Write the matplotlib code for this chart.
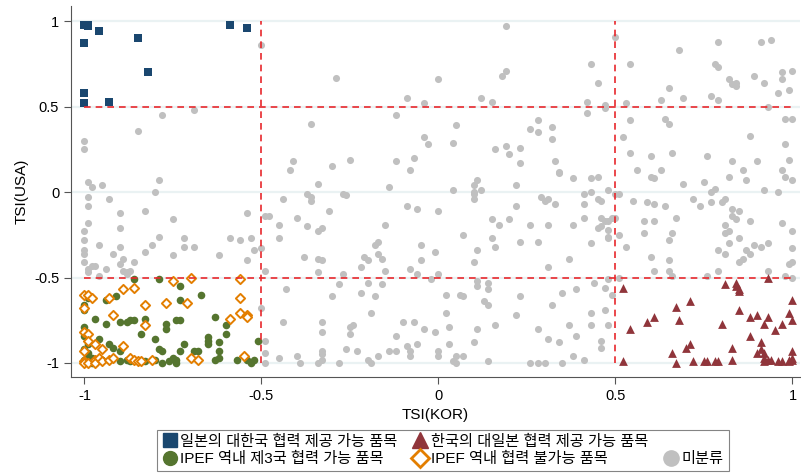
import matplotlib
matplotlib.use('Agg')
import matplotlib.pyplot as plt
from matplotlib.lines import Line2D
import numpy as np

plt.rcParams['font.family'] = ['Liberation Sans', 'Noto Sans CJK KR', 'DejaVu Sans']

# points, (TSI(KOR), TSI(USA))
gray_pts = [
    (-0.50, 0.86), (0.19, 0.97), (0.50, 0.91), (-0.29, 0.67), (0.00, 0.66), (0.18, 0.68), (0.19, 0.71),
    (0.43, 0.75), (0.45, 0.64), (-0.09, 0.55), (-0.04, 0.52), (0.12, 0.55), (0.15, 0.53), (0.42, 0.53),
    (0.47, 0.51), (0.47, 0.49), (-0.12, 0.45), (-0.36, 0.40), (0.05, 0.39), (0.26, 0.37), (0.28, 0.42),
    (0.28, 0.35), (0.32, 0.38), (0.32, 0.31), (0.42, 0.46), (-0.04, 0.32), (-0.03, 0.28), (0.04, 0.29),
    (0.16, 0.25), (0.19, 0.27), (0.20, 0.22), (0.23, 0.26), (0.23, 0.17), (0.33, 0.18), (0.34, 0.12),
    (0.34, 0.11), (0.38, 0.08), (0.43, 0.08), (0.45, 0.09), (-0.42, 0.13), (-0.41, 0.18), (-0.34, 0.05),
    (-0.30, 0.15), (-0.25, 0.19), (-0.12, 0.18), (-0.07, 0.20), (-0.08, 0.13), (-0.14, 0.03), (-0.37, -0.01),
    (-0.36, -0.03), (-0.44, -0.04), (-0.27, -0.01), (-0.26, -0.02), (0.04, 0.01), (0.10, 0.04), (0.11, 0.07),
    (0.10, 0.00), (0.12, 0.01), (0.10, -0.01), (0.22, 0.04), (0.29, -0.03), (0.31, -0.04), (0.41, -0.01),
    (0.43, 0.00), (0.45, -0.04), (0.48, 0.01), (0.50, -0.01),
    (-0.36, -0.05), (0.10, -0.04), (0.30, -0.05), (0.33, -0.07), (0.41, -0.07), (0.46, -0.05), (-0.48, -0.14),
    (-0.49, -0.14), (-0.40, -0.15), (-0.45, -0.19), (-0.37, -0.20), (-0.45, -0.27), (-0.34, -0.23),
    (-0.33, -0.21), (-0.31, -0.11), (-0.09, -0.08), (-0.06, -0.10), (0.00, -0.11), (-0.15, -0.19),
    (-0.38, -0.38), (-0.34, -0.39), (-0.33, -0.40), (-0.34, -0.47), (-0.49, -0.46), (-0.50, -0.33),
    (-0.22, -0.44), (-0.27, -0.48), (-0.21, -0.38), (-0.20, -0.40), (-0.18, -0.31), (-0.17, -0.29),
    (-0.17, -0.36), (-0.16, -0.39), (-0.15, -0.46), (-0.05, -0.31), (-0.05, -0.40), (-0.08, -0.45),
    (-0.06, -0.48), (-0.01, -0.35), (0.00, -0.48), (-0.02, -0.51), (0.07, -0.25), (0.11, -0.34), (0.10, -0.41),
    (0.15, -0.16), (0.17, -0.19), (0.15, -0.27), (0.16, -0.32), (0.20, -0.16), (0.22, -0.08), (0.26, -0.19),
    (0.23, -0.29), (0.28, -0.29), (0.31, -0.19), (0.31, -0.44), (0.37, -0.39), (0.38, -0.19), (0.41, -0.15),
    (0.43, -0.30), (0.46, -0.15), (0.46, -0.20), (0.48, -0.17), (0.48, -0.22), (0.48, -0.26), (0.49, -0.15),
    (0.48, -0.51),
    (-0.43, -0.57), (-0.30, -0.61), (-0.28, -0.54), (-0.22, -0.59), (-0.20, -0.53), (-0.18, -0.61),
    (-0.16, -0.54), (-0.19, -0.71), (-0.50, -0.68), (-0.49, -0.87), (-0.44, -0.76), (-0.33, -0.76),
    (-0.33, -0.82), (-0.25, -0.79), (-0.25, -0.83), (-0.24, -0.78), (-0.49, -0.94), (-0.49, -1.0),
    (-0.45, -0.97), (-0.40, -0.96), (-0.39, -1.0), (-0.34, -1.0), (-0.33, -0.98), (-0.33, -0.93),
    (-0.33, -0.95), (-0.28, -1.0), (-0.26, -0.92), (-0.23, -0.93), (-0.20, -0.98), (-0.19, -1.0),
    (-0.17, -0.96), (-0.14, -0.93), (-0.12, -0.93), (-0.12, -0.84), (-0.10, -0.76), (-0.07, -0.76),
    (-0.09, -0.90), (-0.08, -0.93), (-0.08, -0.96), (-0.06, -0.89), (-0.04, -0.80), (-0.01, -0.82),
    (0.00, -0.93), (0.00, -0.96), (0.02, -0.60), (0.02, -0.71), (0.03, -0.79), (0.03, -0.89), (0.05, -0.96),
    (0.04, -0.99), (0.05, -1.0), (0.07, -0.96), (0.06, -0.60), (0.07, -0.61), (0.11, -0.52), (0.11, -0.55),
    (0.14, -0.53), (0.14, -0.57), (0.13, -0.64), (0.14, -0.66), (0.11, -0.80), (0.10, -0.88), (0.14, -0.99),
    (0.16, -0.78), (0.22, -0.72), (0.23, -0.61), (0.28, -0.80), (0.26, -1.0), (0.28, -1.0), (0.30, -1.0),
    (0.35, -1.0), (0.31, -0.86), (0.32, -0.66), (0.35, -0.59), (0.34, -0.88), (0.37, -0.78), (0.39, -0.84),
    (0.39, -0.57), (0.38, -0.96), (0.41, -0.98), (0.43, -0.71), (0.43, -0.78), (0.44, -0.53), (0.47, -0.56),
    (0.47, -0.69), (0.48, -0.78), (0.46, -0.87), (0.46, -0.91), (0.49, -0.60),
    (0.54, 0.75), (0.68, 0.83), (0.79, 0.88), (0.91, 0.88), (0.94, 0.89), (0.78, 0.75), (0.79, 0.73),
    (0.82, 0.66), (0.83, 0.63), (0.84, 0.64), (0.84, 0.62), (0.89, 0.68), (0.92, 0.64), (0.97, 0.70),
    (1.00, 0.71), (0.97, 0.66), (0.96, 0.58), (0.99, 0.60), (0.65, 0.61), (0.63, 0.54), (0.69, 0.55),
    (0.77, 0.56), (0.79, 0.54), (0.53, 0.52), (0.93, 0.50), (0.64, 0.43), (0.65, 0.40), (0.54, 0.42),
    (0.98, 0.43), (1.00, 0.43), (0.88, 0.33), (0.98, 0.28), (0.52, 0.32), (0.54, 0.23), (0.60, 0.21),
    (0.66, 0.23), (0.56, 0.13), (0.60, 0.09), (0.61, 0.08), (0.63, 0.13), (0.69, 0.05), (0.75, 0.06),
    (0.76, 0.21), (0.83, 0.18), (0.82, 0.09), (0.86, 0.13), (0.87, 0.07), (0.90, 0.18), (0.97, 0.13),
    (0.99, 0.19), (0.98, 0.09), (1.00, 0.07), (0.77, 0.00), (0.78, 0.02), (0.92, 0.01), (0.96, 0.00),
    (0.51, -0.01), (0.55, -0.05), (0.59, -0.06), (0.61, -0.07), (0.64, -0.08), (0.72, -0.04), (0.74, -0.08),
    (0.77, -0.06), (0.80, -0.06), (0.81, -0.04), (0.83, -0.10), (0.85, -0.11), (0.58, -0.17), (0.61, -0.17),
    (0.67, -0.15), (0.58, -0.24), (0.66, -0.24), (0.65, -0.28), (0.81, -0.19), (0.83, -0.14), (0.84, -0.16),
    (0.88, -0.17), (0.97, -0.18), (0.81, -0.24), (0.82, -0.23), (0.82, -0.30), (0.85, -0.27), (0.87, -0.34),
    (0.88, -0.36), (0.89, -0.31), (0.91, -0.32), (0.93, -0.30), (1.00, -0.23), (1.00, -0.33), (1.00, -0.41),
    (0.99, -0.42), (0.79, -0.34), (0.81, -0.36), (0.85, -0.41), (0.86, -0.39), (0.53, -0.32), (0.51, -0.25),
    (0.60, -0.38), (0.65, -0.40), (0.65, -0.46), (0.66, -0.49), (0.61, -0.46), (0.79, -0.46), (0.76, -0.49),
    (0.93, -0.46), (0.98, -0.49), (0.51, -0.50), (1.00, -0.50), (0.48, -0.27), (0.50, -0.15), (0.47, -0.17),
    (0.45, -0.21),
    (-0.69, 0.48), (-0.78, 0.45), (-0.85, 0.36), (-1.0, 0.30), (-1.0, 0.25), (-0.99, 0.06), (-0.98, 0.03),
    (-0.95, 0.04), (-0.99, -0.03), (-0.93, -0.04), (-0.79, 0.07), (-0.80, 0.00), (-0.99, -0.08), (-0.90, -0.12),
    (-0.83, -0.11), (-0.75, -0.16), (-0.54, -0.12), (-0.99, -0.18), (-0.90, -0.21), (-1.0, -0.23),
    (-1.0, -0.28), (-0.79, -0.26), (-0.72, -0.27), (-0.72, -0.32), (-0.69, -0.32), (-0.59, -0.27),
    (-0.56, -0.28), (-0.53, -0.27), (-0.96, -0.31), (-0.90, -0.32), (-0.81, -0.31), (-0.83, -0.35),
    (-1.0, -0.34), (-1.0, -0.36), (-0.92, -0.36), (-0.89, -0.39), (-0.75, -0.37), (-0.62, -0.37),
    (-0.54, -0.40), (-0.52, -0.34), (-1.0, -0.41), (-0.90, -0.42), (-0.86, -0.41), (-0.98, -0.43),
    (-0.97, -0.43), (-0.99, -0.45), (-0.99, -0.47), (-0.96, -0.49), (-0.94, -0.45), (-0.89, -0.46),
    (-0.88, -0.47), (-0.87, -0.46), (-0.88, -0.48),
]

green_pts = [
    (-0.86, -0.51), (-0.79, -0.51), (-1.0, -0.60), (-0.99, -0.62), (-0.94, -0.63), (-0.91, -0.61),
    (-1.0, -0.66), (-1.0, -0.69), (-0.97, -0.74), (-0.94, -0.77), (-0.90, -0.76), (-0.88, -0.76),
    (-0.87, -0.75), (-0.86, -0.75), (-0.83, -0.74), (-0.77, -0.77), (-0.77, -0.80), (-0.74, -0.75),
    (-1.0, -0.79), (-1.0, -0.84), (-0.99, -0.89), (-1.0, -0.92), (-0.99, -0.94), (-0.96, -0.86),
    (-0.93, -0.89), (-0.92, -0.91), (-0.90, -0.93), (-0.84, -0.83), (-0.80, -0.86), (-0.79, -0.92),
    (-0.78, -0.93), (-0.98, -0.97), (-0.97, -0.98), (-0.97, -1.0), (-0.98, -1.0), (-0.95, -0.98),
    (-0.93, -0.98), (-0.90, -0.99), (-0.88, -0.98), (-0.87, -0.99), (-0.84, -0.99), (-0.80, -0.98),
    (-0.78, -1.0), (-0.76, -0.99), (-0.74, -0.98), (-0.73, -0.55), (-0.73, -0.63), (-0.67, -0.60),
    (-0.73, -0.75), (-0.63, -0.73), (-0.60, -0.78), (-0.60, -0.83), (-0.65, -0.85), (-0.65, -0.87),
    (-0.65, -0.89), (-0.62, -0.88), (-0.72, -0.89), (-0.73, -0.93), (-0.69, -0.93), (-0.68, -0.93),
    (-0.62, -0.93), (-0.51, -0.87), (-0.75, -0.97), (-0.74, -1.0), (-0.62, -0.97), (-0.63, -0.98),
    (-0.57, -0.98), (-0.54, -0.98), (-0.53, -1.0), (-0.52, -0.98), (-0.83, -0.99), (-1.0, -0.98),
    (-0.99, -0.96),
]

orange_pts = [
    (-0.86, -0.56), (-0.89, -0.57), (-0.93, -0.62), (-0.75, -0.52), (-1.0, -0.60), (-0.99, -0.60),
    (-0.98, -0.62), (-1.0, -0.68), (-0.77, -0.65), (-0.83, -0.66), (-0.92, -0.72), (-0.83, -0.78),
    (-1.0, -0.82), (-0.99, -0.83), (-0.99, -0.87), (-0.97, -0.89), (-0.95, -0.92), (-0.89, -0.90),
    (-1.0, -0.93), (-1.0, -0.99), (-1.0, -1.0), (-0.99, -1.0), (-0.97, -0.98), (-0.97, -1.0),
    (-0.96, -0.97), (-0.95, -0.99), (-0.93, -0.98), (-0.92, -0.97), (-0.87, -0.97), (-0.86, -0.98),
    (-0.85, -0.99), (-0.84, -0.99), (-0.81, -0.98), (-0.70, -0.50), (-0.56, -0.51), (-0.71, -0.65),
    (-0.56, -0.62), (-0.56, -0.71), (-0.59, -0.74), (-0.54, -0.72), (-0.54, -0.73), (-0.70, -0.97),
    (-0.68, -0.98), (-0.55, -0.96),
]

blue_pts = [
    (-1.0, 0.98), (-0.99, 0.98), (-0.99, 0.97), (-0.96, 0.94), (-1.0, 0.87), (-0.85, 0.90),
    (-0.82, 0.70), (-1.0, 0.58), (-1.0, 0.52), (-0.93, 0.53), (-0.59, 0.98), (-0.54, 0.96),
]

red_pts = [
    (0.52, -0.56), (0.54, -0.80), (0.52, -0.99), (0.59, -0.76), (0.61, -0.73), (0.67, -0.67),
    (0.68, -0.75), (0.71, -0.64), (0.66, -0.94), (0.67, -1.0), (0.70, -0.91), (0.71, -0.89),
    (0.72, -0.99), (0.75, -0.99), (0.76, -0.99), (0.78, -0.99), (0.79, -0.99), (0.80, -0.77),
    (0.81, -0.54), (0.84, -0.53), (0.84, -0.55), (0.85, -0.57), (0.85, -0.58), (0.85, -0.69),
    (0.83, -0.91), (0.83, -0.98), (0.88, -0.73), (0.88, -0.84), (0.90, -0.72), (0.92, -0.77),
    (0.93, -0.73), (0.93, -0.50), (0.95, -0.81), (0.97, -0.77), (0.99, -0.71), (1.00, -0.75),
    (1.00, -0.63), (0.91, -0.88), (0.91, -0.92), (0.92, -0.94), (0.92, -0.97), (0.92, -0.99),
    (0.93, -0.98), (0.94, -0.98), (0.90, -0.94), (0.96, -0.99), (0.97, -0.99), (0.99, -0.98),
    (0.99, -0.99), (1.00, -0.98), (1.00, -0.93), (1.00, -0.97),
]

labels = ['일본의 대한국 협력 제공 가능 품목', '한국의 대일본 협력 제공 가능 품목',
          'IPEF 역내 제3국 협력 가능 품목', 'IPEF 역내 협력 불가능 품목', '미분류']
ticks = [-1, -0.5, 0, 0.5, 1]
tick_labels = ['-1', '-0.5', '0', '0.5', '1']
cutoffs = [-0.5, 0.5]

c_blue = '#1a476f'
c_red = '#90353b'
c_green = '#55752f'
c_orange = '#e37e00'
c_gray = '#c0c0c0'
c_dash = '#e8282c'

fig = plt.figure(figsize=(8.01, 4.73), dpi=100)
ax = fig.add_axes([0.0886, 0.203, 0.91, 0.784])

for t in ticks:
    ax.axhline(t, color='#eaf2f3', lw=1.6, zorder=0)

g = np.array(gray_pts)
ax.scatter(g[:, 0], g[:, 1], s=26, color=c_gray, linewidths=0, zorder=2)
gr = np.array(green_pts)
ax.scatter(gr[:, 0], gr[:, 1], s=30, color=c_green, linewidths=0, zorder=3)
o = np.array(orange_pts)
ax.scatter(o[:, 0], o[:, 1], s=22, marker='D', facecolor='white', edgecolor=c_orange,
           linewidths=1.4, zorder=4)
b = np.array(blue_pts)
ax.scatter(b[:, 0], b[:, 1], s=26, marker='s', color=c_blue, linewidths=0, zorder=4)
r = np.array(red_pts)
ax.scatter(r[:, 0], r[:, 1], s=40, marker='^', color=c_red, linewidths=0, zorder=4)

for c in cutoffs:
    ax.plot([c, c], [-1, 1], color=c_dash, lw=1.2, ls=(0, (4, 3)), zorder=5)
    ax.plot([-1, 1], [c, c], color=c_dash, lw=1.2, ls=(0, (4, 3)), zorder=5)

ax.set_xlim(-1.038, 1.021)
ax.set_ylim(-1.082, 1.088)
ax.set_xticks(ticks)
ax.set_xticklabels(tick_labels)
ax.set_yticks(ticks)
ax.set_yticklabels(tick_labels)
ax.tick_params(labelsize=10.5, color='#555555', length=5)
ax.spines['top'].set_visible(False)
ax.spines['right'].set_visible(False)
ax.spines['left'].set_color('#555555')
ax.spines['bottom'].set_color('#555555')
ax.set_xlabel('TSI(KOR)', fontsize=11)
ax.set_ylabel('TSI(USA)', fontsize=11)

handles = [
    Line2D([], [], ls='', marker='s', ms=10, color=c_blue),
    Line2D([], [], ls='', marker='o', ms=10, color=c_green),
    Line2D([], [], ls='', marker='^', ms=11, color=c_red),
    Line2D([], [], ls='', marker='D', ms=9, mfc='white', mec=c_orange, mew=2),
    Line2D([], [], ls='', marker=None),
    Line2D([], [], ls='', marker='o', ms=11, color=c_gray),
]
leg_labels = [labels[0], labels[2], labels[1], labels[3], '', labels[4]]
leg = fig.legend(handles, leg_labels, ncol=3, loc='lower center', bbox_to_anchor=(0.553, -0.012),
                 fontsize=11, frameon=True, fancybox=False, edgecolor='#666666',
                 handletextpad=0.2, columnspacing=1.0, handlelength=1.0, labelspacing=0.25,
                 borderpad=0.3)
leg.get_frame().set_linewidth(0.8)

fig.savefig('out.png', dpi=100)
